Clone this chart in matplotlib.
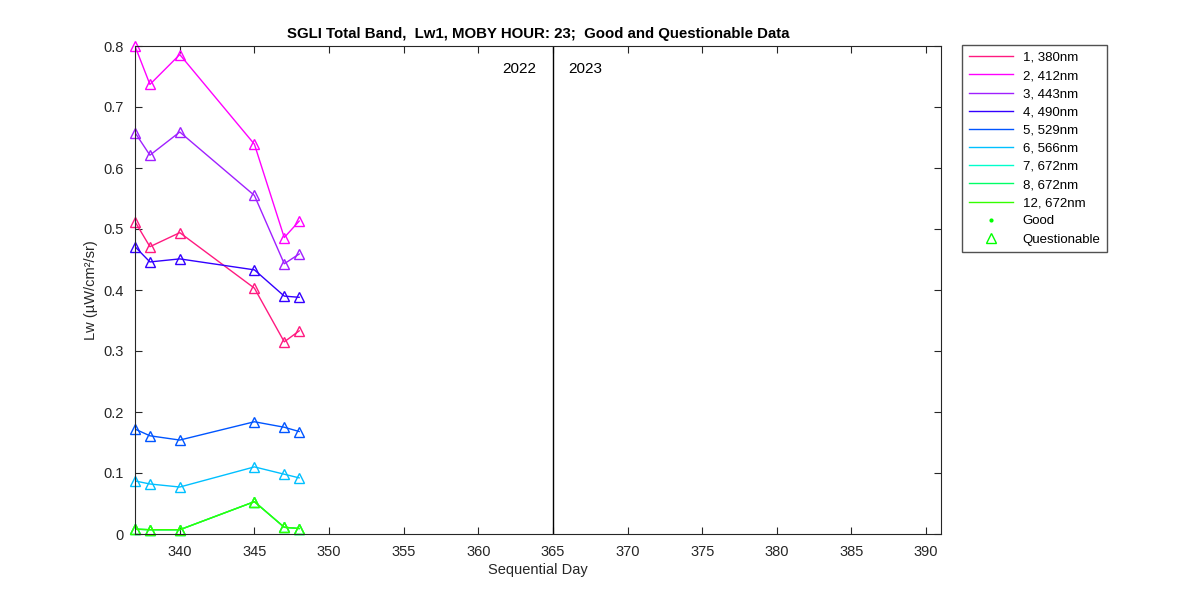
import matplotlib
matplotlib.use('Agg')
import matplotlib.pyplot as plt
from matplotlib.lines import Line2D

plt.rcParams['font.family'] = ['Liberation Sans', 'DejaVu Sans']

days = [337, 338, 340, 345, 347, 348]

band_labels = ['1, 380nm', '2, 412nm', '3, 443nm', '4, 490nm', '5, 529nm',
               '6, 566nm', '7, 672nm', '8, 672nm', '12, 672nm']
band_colors = ['#ff1a80', '#ff00ff', '#a020ff', '#3300ff', '#0055ff',
               '#00c0ff', '#00ffcc', '#00ff66', '#33ff00']

lw_380 = [0.512, 0.471, 0.494, 0.403, 0.315, 0.333]
lw_412 = [0.800, 0.737, 0.786, 0.639, 0.486, 0.513]
lw_443 = [0.658, 0.621, 0.659, 0.555, 0.443, 0.459]
lw_490 = [0.471, 0.446, 0.451, 0.433, 0.390, 0.388]
lw_529 = [0.172, 0.161, 0.154, 0.184, 0.175, 0.168]
lw_566 = [0.087, 0.082, 0.077, 0.110, 0.098, 0.092]
lw_672a = [0.008, 0.007, 0.007, 0.053, 0.011, 0.009]
lw_672b = [0.008, 0.007, 0.007, 0.053, 0.011, 0.009]
lw_672c = [0.008, 0.007, 0.007, 0.053, 0.011, 0.009]

series = [lw_380, lw_412, lw_443, lw_490, lw_529, lw_566, lw_672a, lw_672b, lw_672c]

fig = plt.figure(figsize=(12, 6), dpi=100)
ax = fig.add_axes([135 / 1200, 66 / 600, 806 / 1200, 488 / 600])

for vals, col in zip(series, band_colors):
    ax.plot(days, vals, '-', color=col, lw=1)
    ax.plot(days, vals, '^', color=col, mfc='none', ms=6.5, mew=1, clip_on=False)

ax.axvline(365, color='black', lw=1)
ax.text(363.9, 0.762, '2022', ha='right', va='center', fontsize=11)
ax.text(366.0, 0.762, '2023', ha='left', va='center', fontsize=11)

ax.set_xlim(337, 391)
ax.set_ylim(0, 0.8)
ax.set_xticks(range(340, 391, 5))
ax.set_yticks([0, 0.1, 0.2, 0.3, 0.4, 0.5, 0.6, 0.7, 0.8])
ax.set_yticklabels(['0', '0.1', '0.2', '0.3', '0.4', '0.5', '0.6', '0.7', '0.8'])
ax.tick_params(direction='in', top=True, right=True, labelsize=10.5, length=5,
               colors='#262626')
ax.tick_params(axis='y', pad=8)
ax.tick_params(axis='x', pad=8)
for s in ax.spines.values():
    s.set_color('#262626')
    s.set_linewidth(0.8)

ax.set_xlabel('Sequential Day', fontsize=10.5, color='#262626', labelpad=3)
ax.set_ylabel('Lw (µW/cm²/sr)', fontsize=10.5, color='#262626')
ax.yaxis.set_label_coords(-0.046, 0.5)
ax.set_title('SGLI Total Band,  Lw1, MOBY HOUR: 23;  Good and Questionable Data',
             fontsize=10.8, fontweight='bold', pad=6)

handles = [Line2D([], [], color=c, lw=1) for c in band_colors]
handles.append(Line2D([], [], color='#00ff00', marker='.', ms=4, ls='none'))
handles.append(Line2D([], [], color='#00ff00', marker='^', mfc='none', ms=7, ls='none'))
labels = band_labels + ['Good', 'Questionable']
fig.legend(handles, labels, loc='upper left', bbox_to_anchor=(962 / 1200, 1 - 45 / 600),
           fontsize=9.5, frameon=True, fancybox=False, edgecolor='#262626',
           handlelength=3.4, handletextpad=0.7, labelspacing=0.45, borderpad=0.5,
           borderaxespad=0)

fig.savefig('out.png', dpi=100)
